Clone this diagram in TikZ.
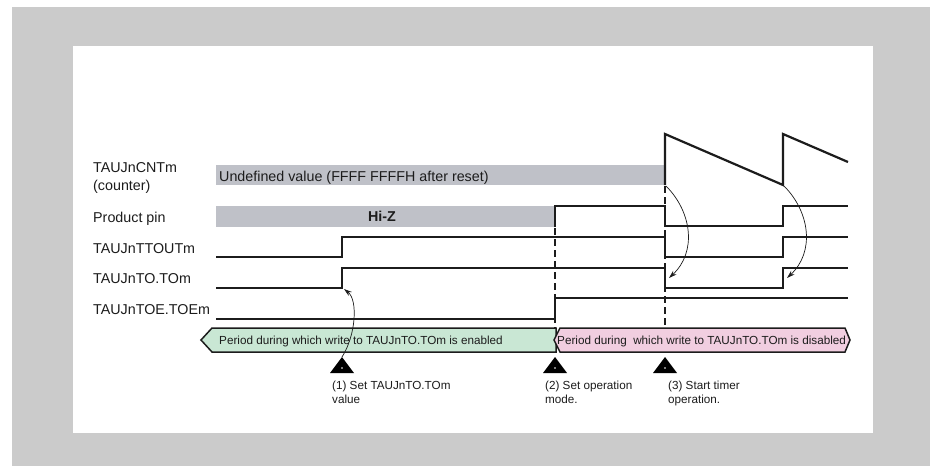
\documentclass[tikz,border=0pt]{standalone}
\usepackage{fontspec}
\setmainfont{Liberation Sans}
\usetikzlibrary{arrows.meta}
\definecolor{outergray}{RGB}{203,203,203}
\definecolor{bargray}{RGB}{191,193,200}
\definecolor{bandgreen}{RGB}{201,231,212}
\definecolor{bandpink}{RGB}{241,206,224}
\definecolor{sigblack}{RGB}{28,28,28}
\begin{document}
\begin{tikzpicture}[x=1pt,y=-1pt,
  sig/.style={line width=2.2pt, draw=sigblack, line join=miter},
  lab/.style={anchor=base west, inner sep=0pt, font=\fontsize{14.3}{17}\selectfont, text=sigblack},
  small/.style={inner sep=0pt, font=\fontsize{11.7}{14}\selectfont, text=sigblack},
  bar/.style={fill=bargray, draw=none},
  band/.style={line width=1.5pt, draw=sigblack, line join=miter},
  dashline/.style={line width=1.3pt, draw=sigblack, dash pattern=on 7pt off 4pt},
  marker/.style={fill=black},
  curvearrow/.style={line width=0.7pt, draw=sigblack, -{Stealth[length=8pt,width=5pt]}}]
\useasboundingbox (0,0) rectangle (930,466);
% frame
\fill[outergray] (12,7) rectangle (930,466);
\fill[white] (73,46) rectangle (873,433);

% left labels
\node[lab] (lcnt) at (93,172) {TAUJnCNTm};
\node[lab] (lcnt2) at (93,190) {(counter)};
\node[lab] (lpp) at (93,222) {Product pin};
\node[lab] (ltt) at (93,253) {TAUJnTTOUTm};
\node[lab] (lto) at (93,283) {TAUJnTO.TOm};
\node[lab] (ltoe) at (93,314) {TAUJnTOE.TOEm};

% counter
\fill[bar] (216,165) rectangle (665,185);
\node[lab, font=\fontsize{14.3}{17}\selectfont] (undef) at (219,181) {Undefined value (FFFF FFFFH after reset)};
\draw[sig] (665,185) -- (665,134) -- (783,185) -- (783,134) -- (848,162);

% product pin
\fill[bar] (216,206) rectangle (555,227);
\node[inner sep=0pt, font=\bfseries\fontsize{14.3}{17}\selectfont, text=sigblack] (hiz) at (382,216) {Hi-Z};
\draw[sig] (555,227) -- (555,206) -- (665,206) -- (665,226) -- (783,226) -- (783,206) -- (848,206);

% TTOUT
\draw[sig] (216,257) -- (342,257) -- (342,237) -- (665,237) -- (665,257) -- (783,257) -- (783,237) -- (848,237);
% TO
\draw[sig] (216,288) -- (342,288) -- (342,268) -- (665,268) -- (665,288) -- (783,288) -- (783,268) -- (848,268);
% TOE
\draw[sig] (216,319) -- (555,319) -- (555,298) -- (848,298);

% dashed lines
\draw[dashline] (555,228) -- (555,328);
\draw[dashline] (665,186) -- (665,328);

% bands
\draw[band, fill=bandgreen] (201,340) -- (212,328) -- (556,328) -- (556,352) -- (212,352) -- cycle;
\draw[band, fill=bandpink] (554,340) -- (560,328) -- (845,328) -- (850,340) -- (845,352) -- (560,352) -- cycle;
\node[small, anchor=base west] (enab) at (219,344) {Period during which write to TAUJnTO.TOm is enabled};
\node[small, anchor=base west] (disab) at (557,344) {Period during\ \ which write to TAUJnTO.TOm is disabled};

% markers
\foreach \mx/\nm in {342/m1, 555/m2, 665/m3}{
  \fill[marker] (\mx,357) -- (\mx+12,373) -- (\mx-12,373) -- cycle;
  \fill[white] (\mx,368) circle (0.9);
  \coordinate (\nm) at (\mx,357);
}

% bottom labels
\node[small, anchor=north west, align=left] (s1) at (332,381) {(1) Set TAUJnTO.TOm\\value};
\node[small, anchor=north west, align=left] (s2) at (545,381) {(2) Set operation\\mode.};
\node[small, anchor=north west, align=left] (s3) at (668,381) {(3) Start timer\\operation.};

% curved arrows
\coordinate (toRise) at (344,289);
\coordinate (cnt1) at (666,186);
\coordinate (toFall1) at (669,278);
\coordinate (cnt2) at (784,186);
\coordinate (toFall2) at (787,278);
\draw[curvearrow] (m1) .. controls (356,335) and (358,300) .. (toRise);
\draw[curvearrow] (cnt1) .. controls (692,212) and (697,252) .. (toFall1);
\draw[curvearrow] (cnt2) .. controls (810,212) and (815,252) .. (toFall2);
\end{tikzpicture}
\end{document}
